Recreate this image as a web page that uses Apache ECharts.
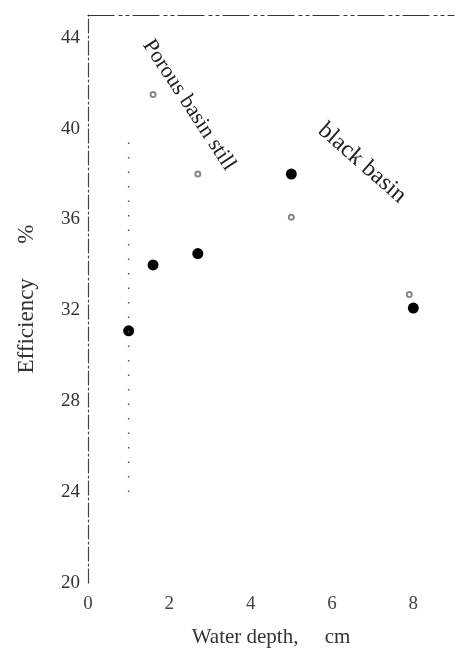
<!DOCTYPE html>
<html>
<head>
<meta charset="utf-8">
<script src="https://cdn.jsdelivr.net/npm/echarts@6/dist/echarts.min.js"></script>
<style>
  html, body { margin: 0; padding: 0; background: #fff; }
  #chart { width: 456px; height: 653px; }
</style>
</head>
<body>
<div id="chart"></div>
<script>
// black basin (filled dots)
var blackDepth = [1.0, 1.6, 2.7, 5.0, 8.0];
var blackEff = [31.1, 34.0, 34.5, 38.0, 32.1];
// porous basin still (faint open marks)
var porousDepth = [1.6, 2.7, 5.0, 7.9];
var porousEff = [41.5, 38.0, 36.1, 32.7];
// dotted vertical guide
var guideDepth = [1.0, 1.0];
var guideEff = [24, 39.5];

function pairs(xs, ys) {
  var out = [];
  for (var i = 0; i < xs.length; i++) out.push([xs[i], ys[i]]);
  return out;
}

var font = '"Liberation Serif", "DejaVu Serif", serif';
var myChart = echarts.init(document.getElementById('chart'));

var option = {
  animation: false,
  grid: { left: 88, right: 2, top: 15, bottom: 70 },
  xAxis: [{
    type: 'value', min: 0, max: 9, interval: 2,
    name: 'Water depth,     cm', nameLocation: 'middle', nameGap: 44,
    nameTextStyle: { fontFamily: font, fontSize: 21, color: '#333' },
    axisLine: { show: false },
    axisTick: { show: false },
    splitLine: { show: false },
    axisLabel: { fontFamily: font, fontSize: 19, color: '#444', margin: 12, showMaxLabel: false }
  }, {
    type: 'value', min: 0, max: 9, position: 'top',
    axisLine: { show: true, lineStyle: { color: '#333', width: 1.2, type: [26, 5, 3, 4, 3, 4] } },
    axisTick: { show: false }, axisLabel: { show: false }, splitLine: { show: false }
  }],
  yAxis: {
    type: 'value', min: 20, max: 45, interval: 4,
    name: 'Efficiency      %', nameLocation: 'middle', nameGap: 50,
    nameTextStyle: { fontFamily: font, fontSize: 23, color: '#333' },
    axisLine: { show: true, lineStyle: { color: '#444', width: 1.2, type: [14, 3, 2, 3] } },
    axisTick: { show: false },
    splitLine: { show: false },
    axisLabel: { fontFamily: font, fontSize: 19, color: '#333', margin: 8, showMaxLabel: false }
  },
  graphic: [{
    type: 'text', x: 189, y: 105, rotation: -0.99,
    style: { text: 'Porous basin still', font: '22px ' + font, fill: '#222',
      textAlign: 'center', textVerticalAlign: 'middle' }
  }, {
    type: 'text', x: 362, y: 163, rotation: -0.72,
    style: { text: 'black basin', font: '24px ' + font, fill: '#222',
      textAlign: 'center', textVerticalAlign: 'middle' }
  }],
  series: [{
    name: 'guide', type: 'line', data: pairs(guideDepth, guideEff),
    symbol: 'none', silent: true,
    lineStyle: { color: '#555', width: 1.5, type: [1.5, 13] }
  }, {
    name: 'Porous basin still', type: 'scatter', data: pairs(porousDepth, porousEff),
    symbol: 'emptyCircle', symbolSize: 5,
    itemStyle: { color: '#888', borderColor: '#888', borderWidth: 1, opacity: 1 }
  }, {
    name: 'black basin', type: 'scatter', data: pairs(blackDepth, blackEff),
    symbol: 'circle', symbolSize: 11,
    itemStyle: { color: '#000', opacity: 1 }
  }]
};

myChart.setOption(option);
</script>
</body>
</html>
